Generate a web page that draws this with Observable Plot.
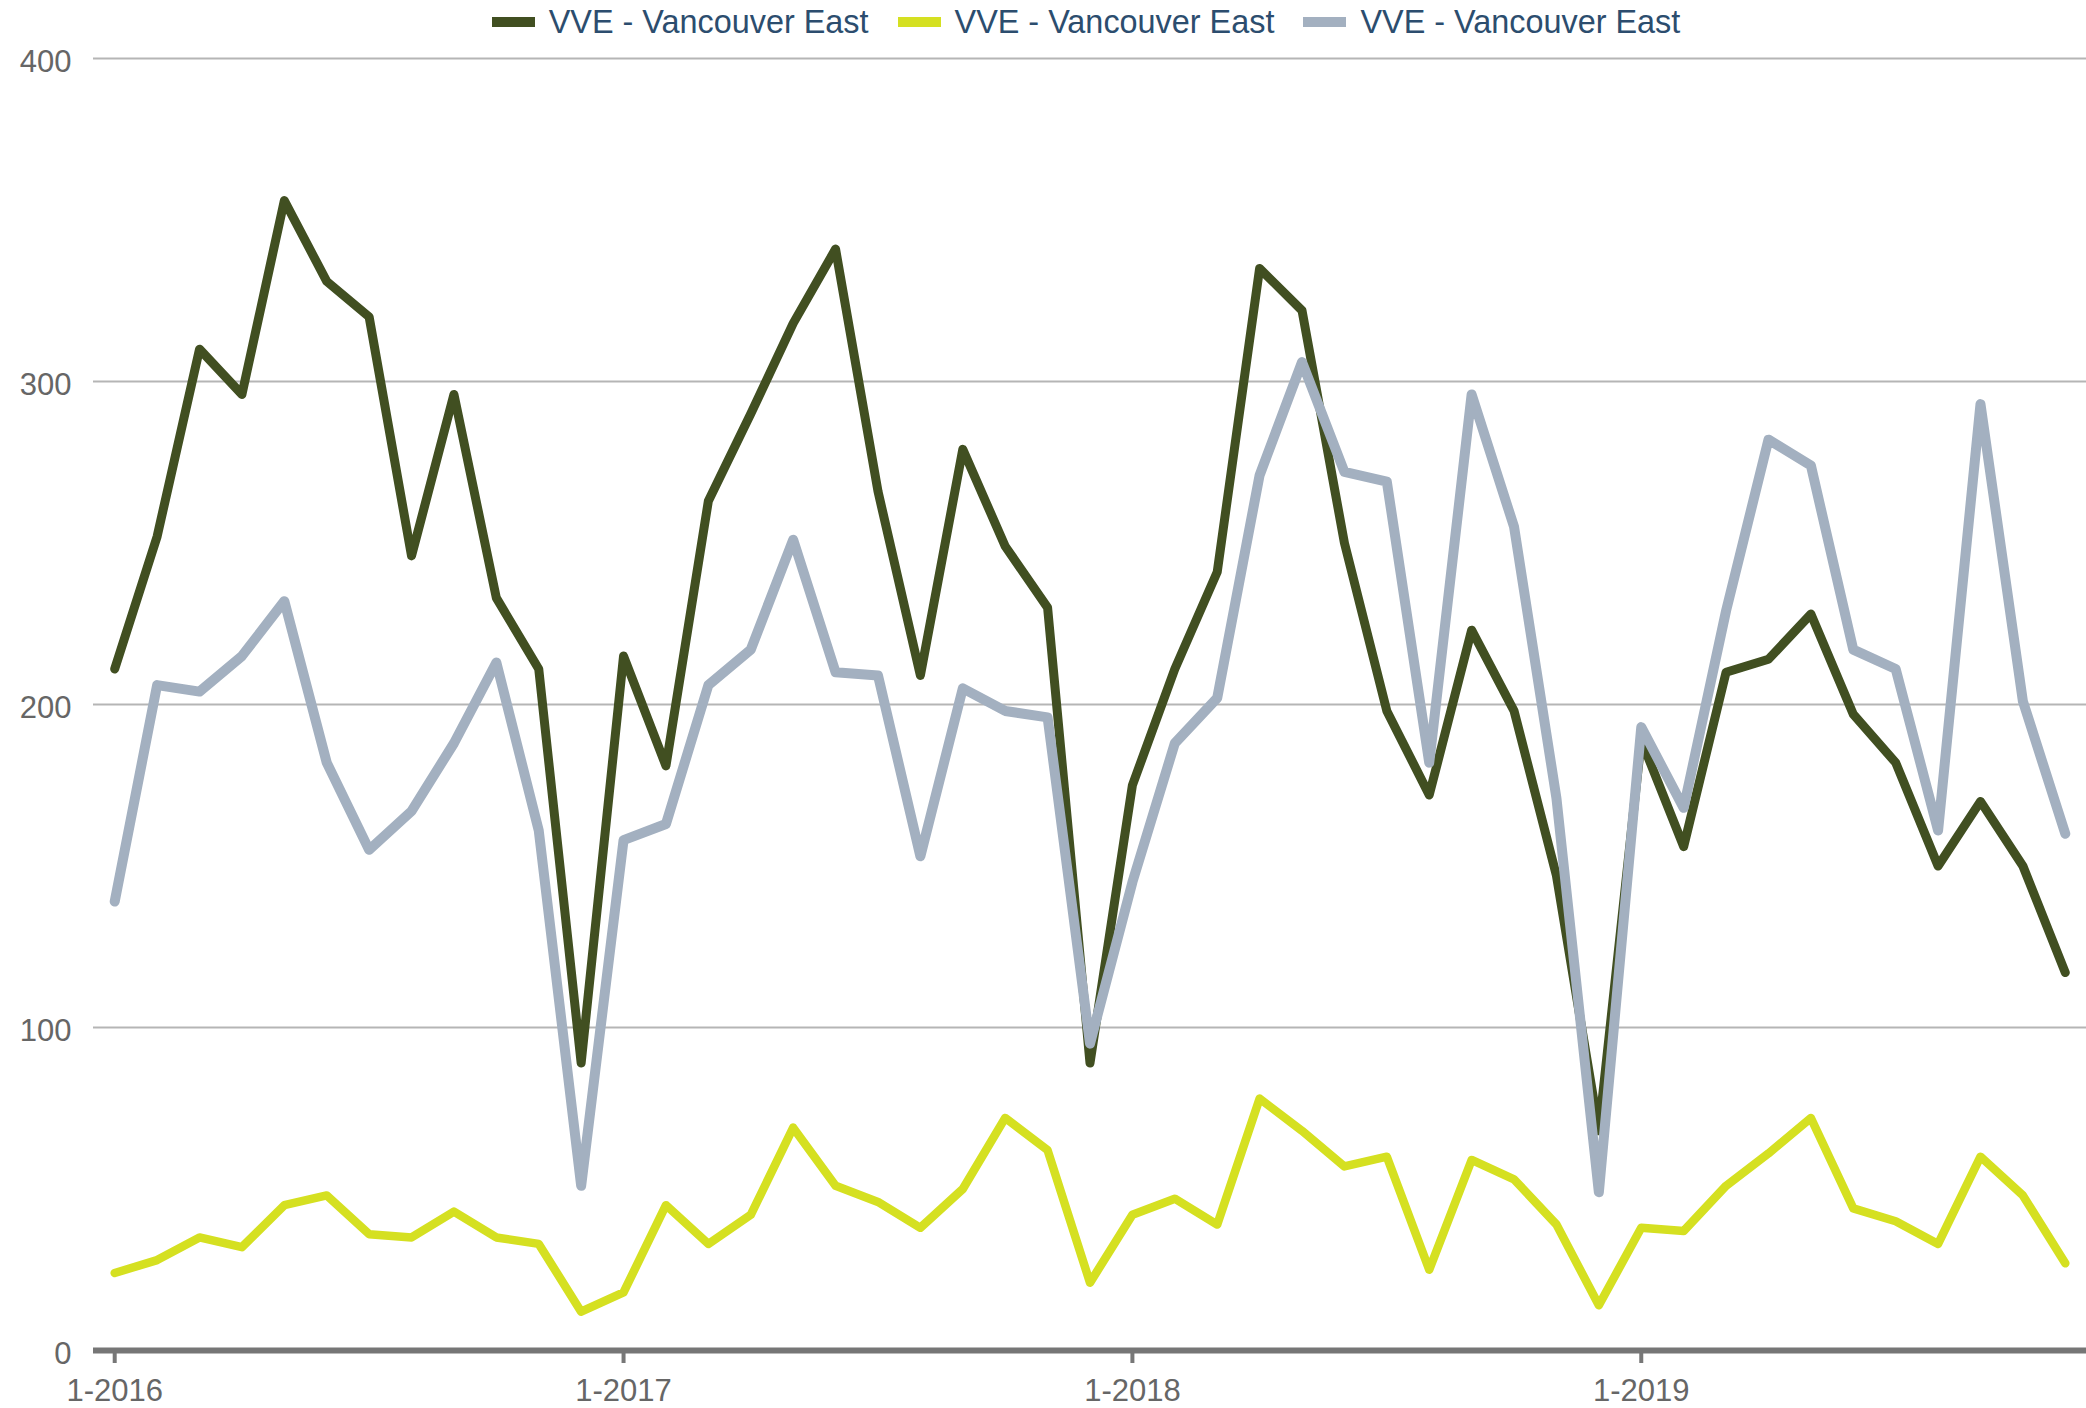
<!DOCTYPE html>
<html>
<head>
<meta charset="utf-8">
<script src="https://cdn.jsdelivr.net/npm/d3@7"></script>
<script src="https://cdn.jsdelivr.net/npm/@observablehq/plot@0.6"></script>
<style>
  html, body { margin: 0; padding: 0; background: #fff; overflow: hidden; }
  body { width: 2086px; height: 1408px; font-family: "Liberation Sans", Arial, sans-serif; }
  #legend { height: 44px; display: flex; align-items: center; justify-content: center; padding-left: 86px; box-sizing: border-box; width: 2086px; }
  .item { display: flex; align-items: center; margin: 0 14.5px; }
  .sw { width: 43px; height: 10px; margin-right: 14px; }
  .lab { font-size: 32.4px; line-height: 1; color: #2c4d6e; white-space: nowrap; }
</style>
</head>
<body>
<div id="legend"></div>
<div id="chart"></div>
<script>
const months = [
  "1-2016","2-2016","3-2016","4-2016","5-2016","6-2016","7-2016","8-2016","9-2016","10-2016","11-2016","12-2016",
  "1-2017","2-2017","3-2017","4-2017","5-2017","6-2017","7-2017","8-2017","9-2017","10-2017","11-2017","12-2017",
  "1-2018","2-2018","3-2018","4-2018","5-2018","6-2018","7-2018","8-2018","9-2018","10-2018","11-2018","12-2018",
  "1-2019","2-2019","3-2019","4-2019","5-2019","6-2019","7-2019","8-2019","9-2019","10-2019","11-2019"
];
const tickLabels = ["1-2016","1-2017","1-2018","1-2019"];
const yTicks = [0, 100, 200, 300, 400];
const seriesNames = ["VVE - Vancouver East", "VVE - Vancouver East", "VVE - Vancouver East"];
const seriesColors = ["#414f21", "#d5e021", "#a3b0c0"];

const darkValues = [211,252,310,296,356,331,320,246,296,233,211,89,
  215,181,263,290,318,341,266,209,279,249,230,89,
  175,211,241,335,322,250,198,172,223,198,147,68,
  189,156,210,214,228,197,182,150,170,150,117];
const yellowValues = [24,28,35,32,45,48,36,35,43,35,33,12,
  18,45,33,42,69,51,46,38,50,72,62,21,
  42,47,39,78,68,57,60,25,59,53,39,14,
  38,37,51,61,72,44,40,33,60,48,27];
const greyValues = [139,206,204,215,232,182,155,167,188,213,161,51,
  158,163,206,217,251,210,209,153,205,198,196,95,
  145,188,202,271,306,272,269,182,296,255,171,49,
  193,168,229,282,274,217,211,161,293,201,160];

const allSeries = [darkValues, yellowValues, greyValues];
const widths = [9, 8.5, 10];

// legend
const legend = document.getElementById("legend");
seriesNames.forEach((name, i) => {
  const it = document.createElement("div"); it.className = "item";
  const sw = document.createElement("div"); sw.className = "sw"; sw.style.background = seriesColors[i];
  const lb = document.createElement("div"); lb.className = "lab"; lb.textContent = name;
  it.appendChild(sw); it.appendChild(lb); legend.appendChild(it);
});

const lineMarks = allSeries.map((vals, s) =>
  Plot.line(vals.map((v, i) => ({month: months[i], value: v})), {
    x: "month", y: "value", stroke: seriesColors[s], strokeWidth: widths[s],
    strokeLinejoin: "round", strokeLinecap: "round"
  })
);

const chart = Plot.plot({
  width: 2086,
  height: 1364,
  marginTop: 14,
  marginBottom: 58,
  marginLeft: 93,
  marginRight: 0,
  style: { fontFamily: "'Liberation Sans', Arial, sans-serif", fontSize: "31px", background: "#fff" },
  x: { type: "point", domain: months, padding: 0.5, round: false },
  y: { domain: [0, 400] },
  marks: [
    Plot.gridY(yTicks.filter(d => d > 0), { stroke: "#b5b5b5", strokeOpacity: 1, strokeWidth: 2 }),
    Plot.axisY(yTicks, { tickSize: 0, tickPadding: 22, fill: "#666", dy: 4, label: null, fontSize: 31 }),
    Plot.axisX(tickLabels, { tickSize: 13, tickPadding: 15, stroke: "#777", strokeWidth: 4, fill: "#666", label: null, fontSize: 31 }),
    ...lineMarks,
    Plot.ruleY([0], { stroke: "#767676", strokeWidth: 6 })
  ]
});
document.getElementById("chart").appendChild(chart);
</script>
</body>
</html>
